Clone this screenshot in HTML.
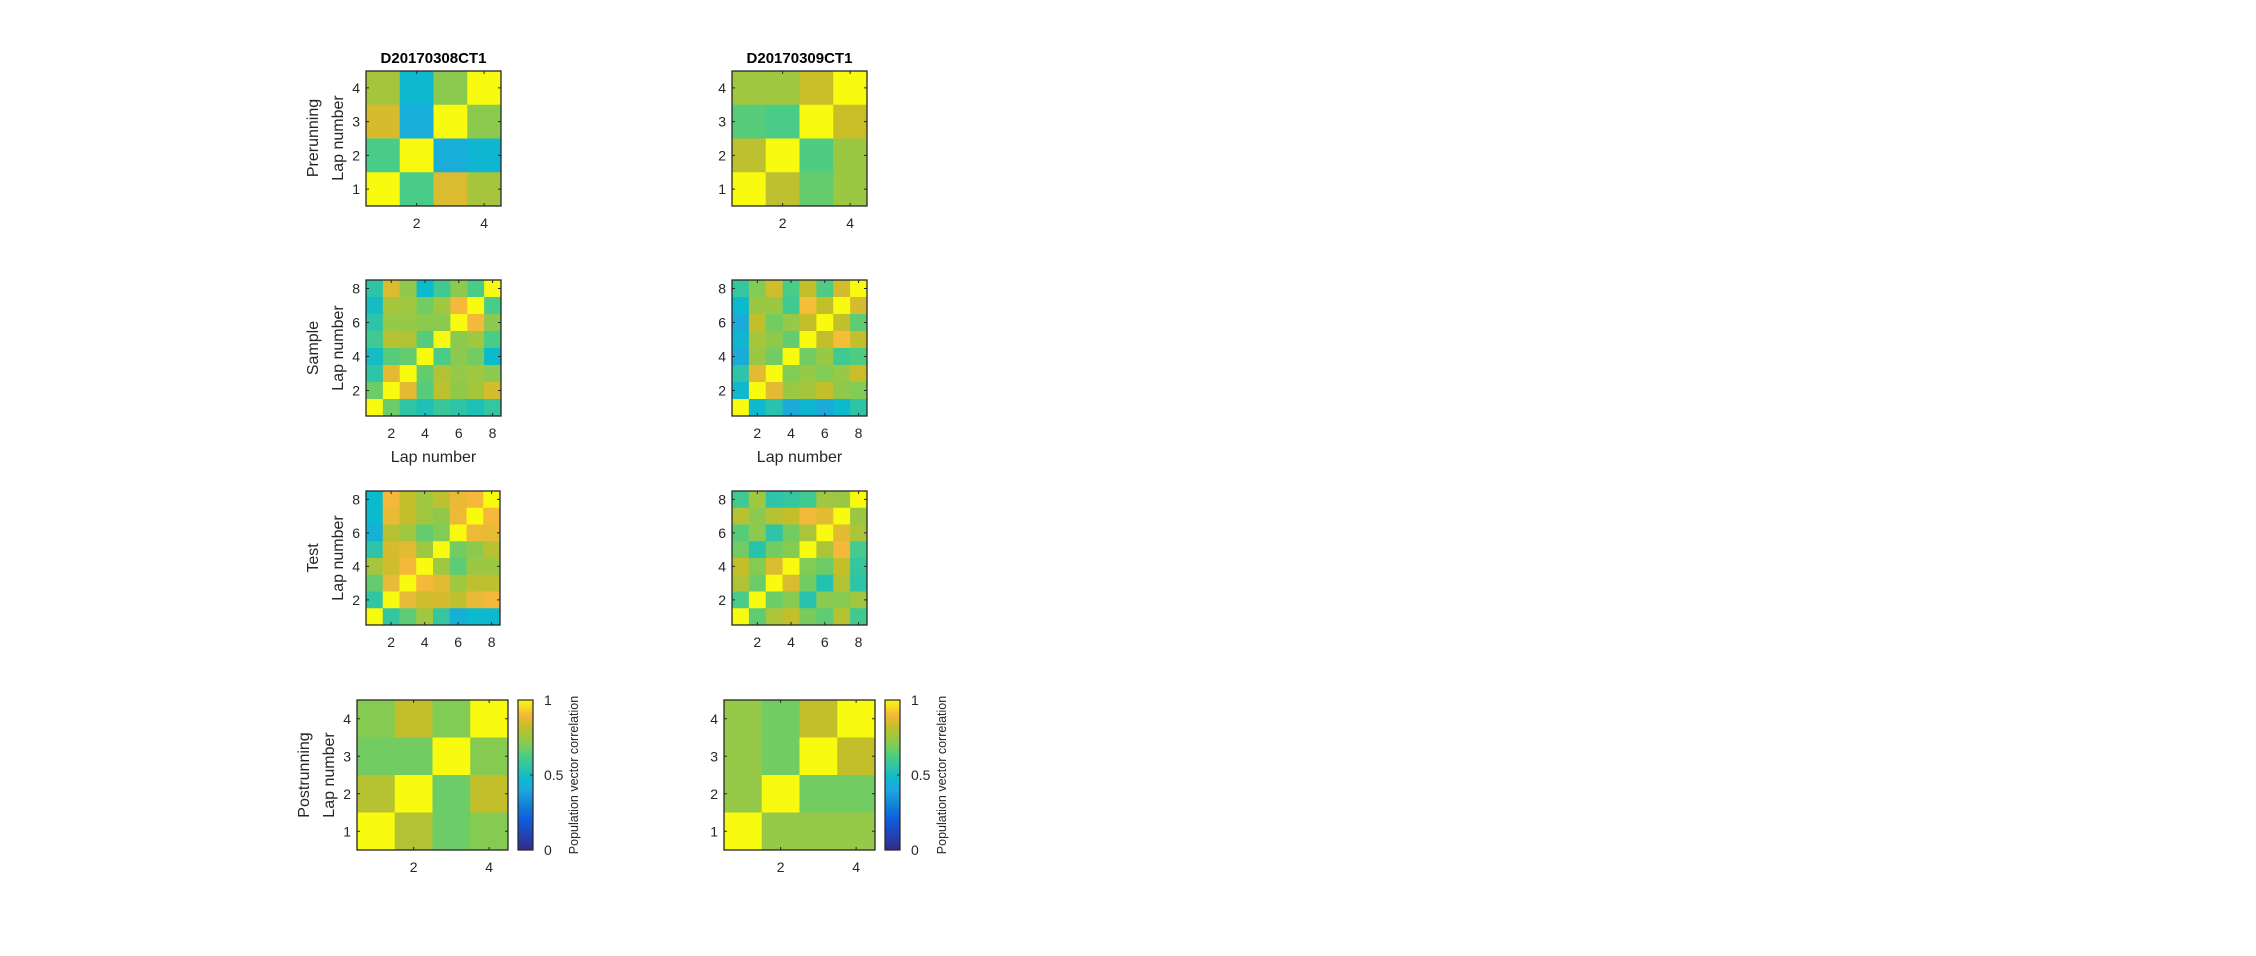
<!DOCTYPE html>
<html><head><meta charset="utf-8"><style>
html,body{margin:0;padding:0;background:#fff;}
svg{display:block;font-family:"Liberation Sans",Arial,sans-serif;}
</style></head><body>
<svg id="fig" width="2256" height="956" viewBox="0 0 2256 956" xmlns="http://www.w3.org/2000/svg"></svg>
<script>
// Data: rows listed top (highest lap) to bottom (lap 1); columns lap 1..N
const preLeft=[[0.77,0.47,0.72,1],[0.85,0.43,1,0.72],[0.62,1,0.43,0.46],[1,0.62,0.86,0.77]];
const sampleLeft=[
[0.55,0.86,0.73,0.48,0.60,0.72,0.62,1],
[0.50,0.77,0.76,0.68,0.76,0.90,1,0.62],
[0.55,0.74,0.74,0.72,0.72,1,0.90,0.72],
[0.60,0.80,0.79,0.64,1,0.72,0.76,0.62],
[0.50,0.64,0.66,1,0.62,0.72,0.68,0.48],
[0.55,0.87,1,0.66,0.79,0.74,0.76,0.72],
[0.67,1,0.87,0.64,0.81,0.73,0.77,0.85],
[1,0.67,0.56,0.52,0.58,0.55,0.52,0.57]];
const testLeft=[
[0.48,0.90,0.82,0.76,0.81,0.88,0.90,1],
[0.48,0.88,0.82,0.76,0.73,0.89,1,0.90],
[0.44,0.80,0.76,0.66,0.70,1,0.89,0.88],
[0.55,0.85,0.87,0.76,1,0.68,0.72,0.80],
[0.77,0.84,0.90,1,0.76,0.65,0.75,0.75],
[0.66,0.88,1,0.90,0.87,0.76,0.81,0.81],
[0.56,1,0.88,0.84,0.85,0.81,0.88,0.90],
[1,0.57,0.65,0.76,0.57,0.44,0.48,0.47]];
const postLeft=[[0.71,0.82,0.70,1],[0.68,0.68,1,0.71],[0.80,1,0.67,0.82],[1,0.79,0.67,0.71]];
const preRight=[[0.76,0.76,0.83,1],[0.64,0.62,1,0.83],[0.81,1,0.63,0.75],[1,0.81,0.66,0.75]];
const sampleRight=[
[0.57,0.70,0.84,0.62,0.82,0.63,0.85,1],
[0.48,0.75,0.75,0.60,0.91,0.82,1,0.85],
[0.42,0.82,0.68,0.74,0.82,1,0.82,0.65],
[0.46,0.77,0.73,0.66,1,0.82,0.91,0.82],
[0.42,0.75,0.68,1,0.68,0.75,0.60,0.63],
[0.55,0.87,1,0.70,0.74,0.70,0.74,0.83],
[0.47,1,0.87,0.75,0.77,0.82,0.73,0.70],
[1,0.47,0.54,0.42,0.46,0.42,0.48,0.55]];
const testRight=[
[0.60,0.76,0.55,0.57,0.60,0.76,0.75,1],
[0.80,0.72,0.80,0.82,0.90,0.87,1,0.75],
[0.64,0.72,0.55,0.68,0.78,1,0.87,0.78],
[0.68,0.54,0.68,0.71,1,0.78,0.90,0.61],
[0.82,0.71,0.86,1,0.70,0.67,0.82,0.57],
[0.79,0.67,1,0.86,0.68,0.53,0.79,0.55],
[0.62,1,0.67,0.71,0.54,0.72,0.71,0.76],
[1,0.65,0.78,0.82,0.69,0.65,0.80,0.60]];
const postRight=[[0.74,0.68,0.82,1],[0.74,0.68,1,0.82],[0.74,1,0.68,0.68],[1,0.74,0.74,0.74]];
const titles=["D20170308CT1","D20170309CT1"];
const rowNames=["Prerunning","Sample","Test","Postrunning"];
const ticks4=[1,2,3,4], xticks4=[2,4], ticks8=[2,4,6,8];
const cbTicks=[0,0.5,1];

const stops=[[0,[53,42,135]],[0.2,[15,92,221]],[0.3,[18,131,212]],[0.4,[31,166,224]],[0.48,[11,186,204]],
[0.55,[45,196,168]],[0.62,[72,204,136]],[0.70,[128,204,85]],[0.77,[165,198,60]],[0.83,[201,190,40]],
[0.90,[244,184,58]],[1,[248,250,15]]];
function cmap(v){v=Math.max(0,Math.min(1,v));
 for(let i=1;i<stops.length;i++){if(v<=stops[i][0]){const a=stops[i-1],b=stops[i];const t=(v-a[0])/(b[0]-a[0]);
 const c=a[1].map((x,k)=>Math.round(x+(b[1][k]-x)*t));return `rgb(${c})`;}}return 'rgb(248,250,15)';}

const svg=document.getElementById('fig');const NS='http://www.w3.org/2000/svg';
function el(tag,attrs,txt){const e=document.createElementNS(NS,tag);for(const k in attrs)e.setAttribute(k,attrs[k]);if(txt!==undefined)e.textContent=txt;svg.appendChild(e);return e;}

function heat(name,data,x0,y0,w,h,yt,xt,xlab){
 const n=data.length;const cw=w/n,ch=h/n;
 const xs=i=>x0+(i-0.5)*cw; // center of lap i
 const ys=j=>y0+h-(j-0.5)*ch;
 data.forEach((row,r)=>{const lap=n-r;row.forEach((v,c)=>{
  const e=el('rect',{x:x0+c*cw,y:y0+(n-lap)*ch,width:cw+0.4,height:ch+0.4,fill:cmap(v)});
  
  });});
 const b=el('rect',{x:x0,y:y0,width:w,height:h,fill:'none',stroke:'#262626','stroke-width':1.3});
 
 yt.forEach(t=>{const y=ys(t);
  el('line',{x1:x0,y1:y,x2:x0+3,y2:y,stroke:'#262626'});el('line',{x1:x0+w,y1:y,x2:x0+w-3,y2:y,stroke:'#262626'});
  const e=el('text',{x:x0-6,y:y+5,'text-anchor':'end','font-size':14,fill:'#262626'},t);
  });
 xt.forEach(t=>{const x=xs(t);
  el('line',{x1:x,y1:y0+h,x2:x,y2:y0+h-3,stroke:'#262626'});el('line',{x1:x,y1:y0,x2:x,y2:y0+3,stroke:'#262626'});
  const e=el('text',{x:x,y:y0+h+22,'text-anchor':'middle','font-size':14,fill:'#262626'},t);
  });
 if(xlab){const e=el('text',{x:x0+w/2,y:y0+h+46,'text-anchor':'middle','font-size':16,fill:'#262626'},'Lap number');
  }
}
function ylab(name,row,x,yc){
 const e=el('text',{transform:`translate(${x},${yc}) rotate(-90)`,'text-anchor':'middle','font-size':16,fill:'#262626'},row);
 
 const f=el('text',{transform:`translate(${x+25},${yc}) rotate(-90)`,'text-anchor':'middle','font-size':16,fill:'#262626'},'Lap number');
 
}
function cbar(name,x0,y0,w,h,lx){
 const defs=el('defs',{});const g=document.createElementNS(NS,'linearGradient');
 g.setAttribute('id',name+'-grad');g.setAttribute('x1','0');g.setAttribute('y1','1');g.setAttribute('x2','0');g.setAttribute('y2','0');
 for(let i=0;i<=40;i++){const s=document.createElementNS(NS,'stop');s.setAttribute('offset',i/40);s.setAttribute('stop-color',cmap(i/40));g.appendChild(s);}
 defs.appendChild(g);
 const r=el('rect',{x:x0,y:y0,width:w,height:h,fill:`url(#${name}-grad)`,stroke:'#262626','stroke-width':1.2});
 
 cbTicks.forEach(t=>{const y=y0+h-t*h;
  el('line',{x1:x0+w,y1:y,x2:x0+w-3,y2:y,stroke:'#262626'});
  const e=el('text',{x:x0+w+11,y:y+5,'font-size':14,fill:'#262626'},t);
  });
 const e=el('text',{transform:`translate(${lx},${y0+h/2}) rotate(-90)`,'text-anchor':'middle','font-size':12.5,fill:'#262626'},'Population vector correlation');
 
}
// titles
[[433.5,titles[0]],[799.5,titles[1]]].forEach(([x,t],i)=>{const e=el('text',{x:x,y:63,'text-anchor':'middle','font-size':15,'font-weight':'bold',fill:'#000'},t);
 });
// left column
heat('prerunning-left',preLeft,366,71,135,135,ticks4,xticks4,false);
heat('sample-left',sampleLeft,366,280,135,136,ticks8,ticks8,true);
heat('test-left',testLeft,366,491,134,134,ticks8,ticks8,false);
heat('postrunning-left',postLeft,357,700,151,150,ticks4,xticks4,false);
ylab('prerunning-left',rowNames[0],318,138);
ylab('sample-left',rowNames[1],318,348);
ylab('test-left',rowNames[2],318,558);
ylab('postrunning-left',rowNames[3],309,775);
cbar('colorbar-left',518,700,15,150,578);
// right column
heat('prerunning-right',preRight,732,71,135,135,ticks4,xticks4,false);
heat('sample-right',sampleRight,732,280,135,136,ticks8,ticks8,true);
heat('test-right',testRight,732,491,135,134,ticks8,ticks8,false);
heat('postrunning-right',postRight,724,700,151,150,ticks4,xticks4,false);
cbar('colorbar-right',885,700,15,150,946);
</script>
</body></html>
